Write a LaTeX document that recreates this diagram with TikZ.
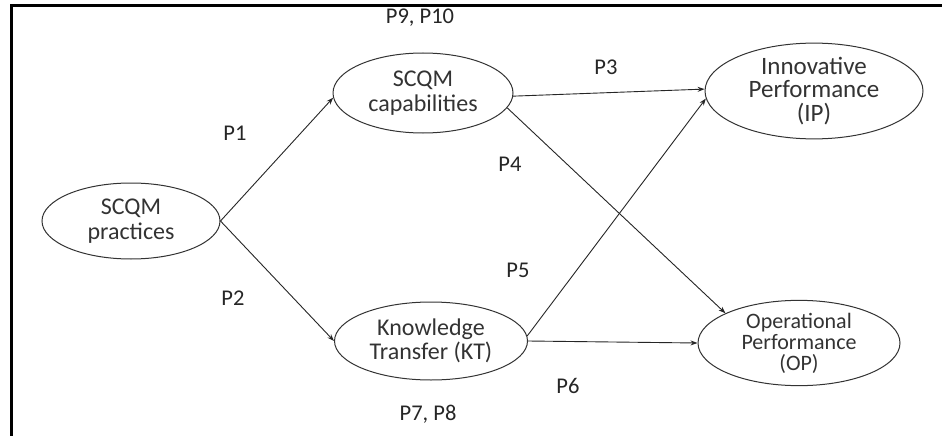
\documentclass[tikz,border=0pt]{standalone}
\usepackage{fontspec}
\setmainfont{Carlito}
\usetikzlibrary{shapes.geometric,arrows.meta}
\begin{document}
\begin{tikzpicture}[x=1pt,y=-1pt,
  oval/.style={ellipse,draw=black!80,line width=1pt,inner sep=0pt,align=center,
    font=\fontsize{24}{24.5}\selectfont,text=black!80},
  lab/.style={font=\fontsize{22.5}{24}\selectfont,text=black!85,inner sep=0pt},
  conn/.style={draw=black!85,line width=0.9pt,-{Stealth[length=7pt,width=5pt]}}]
\useasboundingbox (0,0) rectangle (942,436);
\fill[white] (0,0) rectangle (942,436);
\draw[line width=3pt] (11,437) -- (11,5.5) -- (942,5.5);
\node[oval,minimum width=178pt,minimum height=76pt] (prac) at (131,221) {SCQM\\practices};
\node[oval,minimum width=180pt,minimum height=80pt] (cap) at (423,93) {SCQM\\capabilities};
\node[oval,minimum width=193pt,minimum height=78pt] (kt) at (431,341) {Knowledge\\Transfer (KT)};
\node[oval,minimum width=218pt,minimum height=82pt,font=\fontsize{25}{23.5}\selectfont] (ip) at (814,91) {Innovative\\Performance\\(IP)};
\node[oval,minimum width=202pt,minimum height=80pt,font=\fontsize{22}{21}\selectfont] (op) at (799,343) {Operational\\Performance\\(OP)};
\draw[conn] (prac.east) -- (cap.183);
\draw[conn] (prac.east) -- (kt.west);
\draw[conn] (cap.-2) -- (ip.179);
\draw[conn] (cap.-10) -- (op.158);
\draw[conn] (kt.3) -- (ip.184);
\draw[conn] (kt.east) -- (op.west);
\node[lab] (l910) at (420,18) {P9, P10};
\node[lab] (l3) at (606,67) {P3};
\node[lab] (l1) at (235,133) {P1};
\node[lab] (l4) at (510,164) {P4};
\node[lab] (l5) at (518,270) {P5};
\node[lab] (l2) at (233,298) {P2};
\node[lab] (l6) at (568,386) {P6};
\node[lab] (l78) at (428,414) {P7, P8};
\end{tikzpicture}
\end{document}
